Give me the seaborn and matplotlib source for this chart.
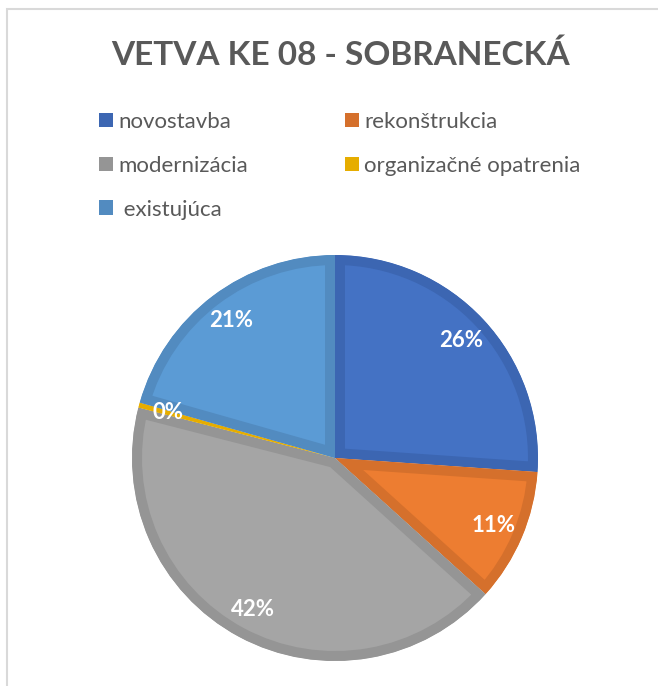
import matplotlib
matplotlib.use("Agg")
import matplotlib.pyplot as plt
from matplotlib.patches import Patch, Rectangle
import seaborn as sns

# Share of each construction type on branch KE 08 (percent)
categories = ["novostavba", "rekonštrukcia", "modernizácia", "organizačné opatrenia", "existujúca"]
shares = [26.1, 10.6, 42.3, 0.4, 20.6]
legend_labels = ["novostavba", "rekonštrukcia", "modernizácia", "organizačné opatrenia", " existujúca"]
title = "VETVA KE 08 - SOBRANECKÁ"

sns.set_theme(style="white")
plt.rcParams["font.family"] = ["Lato", "DejaVu Sans"]

fill_colors = ["#4472C4", "#ED7D31", "#A5A5A5", "#FFC000", "#5B9BD5"]
edge_colors = ["#3C66B2", "#D5702C", "#959595", "#E6AD00", "#528BC0"]

W, H, DPI = 658, 686, 100
fig = plt.figure(figsize=(W / DPI, H / DPI), dpi=DPI)
fig.patch.set_facecolor("white")

# chart-area frame
fig.add_artist(Rectangle((7 / W, -0.05), 1.2, 1 - 9 / H + 0.05, transform=fig.transFigure,
                         fill=False, edgecolor="#D9D9D9", linewidth=1.5))

# pie axes: centre (335, 458) px, radius 203 px
cx, cy, r = 335, 458, 203
ax = fig.add_axes([(cx - r) / W, (H - cy - r) / H, 2 * r / W, 2 * r / H])
wedges, _, autotexts = ax.pie(
    shares, colors=fill_colors, startangle=90, counterclock=False,
    autopct="%.0f%%", pctdistance=0.85, radius=1.0,
    textprops=dict(color="white", fontsize=16, fontweight="bold"),
)
ax.set_xlim(-1, 1)
ax.set_ylim(-1, 1)
ax.set_aspect("equal")

# inner darker border on every slice (stroke clipped to the slice itself)
border_pt = 2 * 10 * 72 / DPI
for w, ec in zip(wedges, edge_colors):
    w.set_edgecolor(ec)
    w.set_linewidth(border_pt)
    w.set_joinstyle("miter")
    w.set_clip_on(True)
    w.set_clip_path(w)

fig.text(341 / W, 1 - 55 / H, title, ha="center", va="center",
         fontsize=24, fontweight="bold", color="#595959")

# legend laid out row by row (matplotlib fills columns first)
order = [0, 2, 4, 1, 3]
handles = [Patch(facecolor=edge_colors[i], edgecolor="none") for i in order]
labels = [legend_labels[i] for i in order]
leg = fig.legend(handles, labels, ncol=2, loc="upper left",
                 bbox_to_anchor=(99 / W, 1 - 112 / H), frameon=False,
                 fontsize=16, labelcolor="#595959",
                 handlelength=0.63, handleheight=0.63, handletextpad=0.23,
                 labelspacing=1.07, columnspacing=4.37, borderpad=0, borderaxespad=0)

fig.savefig("out.png", dpi=DPI, facecolor="white")
